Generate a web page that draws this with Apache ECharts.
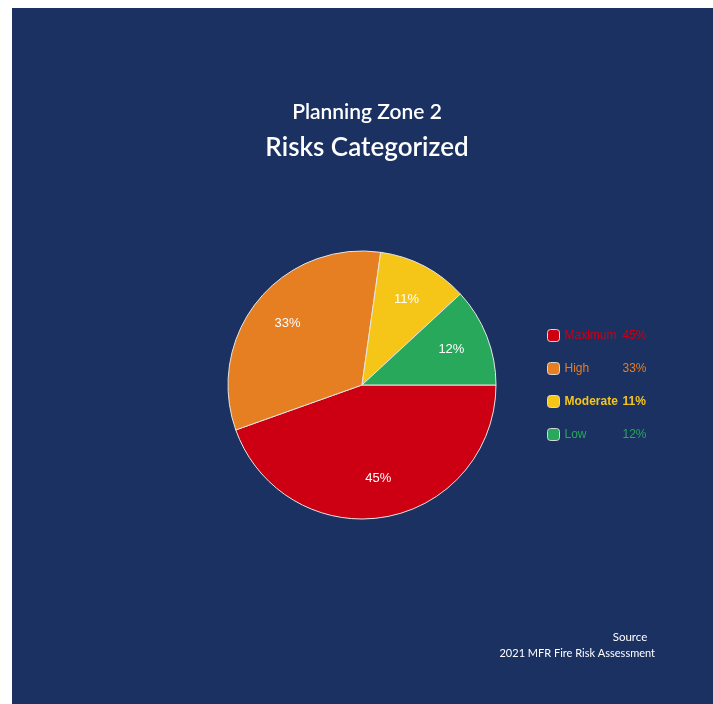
<!DOCTYPE html>
<html>
<head>
<meta charset="utf-8">
<script src="https://cdn.jsdelivr.net/npm/echarts@6/dist/echarts.min.js"></script>
<style>
  html, body { margin: 0; padding: 0; background: #ffffff; }
  #chart { position: absolute; left: 12px; top: 8px; width: 701px; height: 696px; }
</style>
</head>
<body>
<div id="chart"></div>
<script>
// Risk categories for Planning Zone 2 (percent of assessed area)
const categories = ['Maximum', 'High', 'Moderate', 'Low'];
const shares = [45, 33, 11, 12];
const sliceColors = ['#cc0012', '#e67e22', '#f5c518', '#27a85a'];

const titleFont = '"Lato", "Open Sans", sans-serif';
const bodyFont = '"Liberation Sans", Arial, sans-serif';

const pieData = categories.map((name, i) => ({
  name: name,
  value: shares[i],
  itemStyle: { color: sliceColors[i] }
}));

const chart = echarts.init(document.getElementById('chart'));
chart.setOption({
  backgroundColor: '#1a3162',
  animation: false,
  title: [
    {
      text: 'Planning Zone 2',
      left: 350, top: 89, textAlign: 'center',
      textStyle: { color: '#ffffff', fontFamily: titleFont, fontSize: 21, fontWeight: 600 }
    },
    {
      text: 'Risks Categorized',
      left: 350, top: 122, textAlign: 'center',
      textStyle: { color: '#ffffff', fontFamily: titleFont, fontSize: 26, fontWeight: 600 }
    },
    {
      text: 'Source',
      left: 613, top: 618, textAlign: 'center',
      textStyle: { color: '#ffffff', fontFamily: titleFont, fontSize: 11.5, fontWeight: 400 }
    },
    {
      text: '2021 MFR Fire Risk Assessment',
      right: 53, top: 635,
      textStyle: { color: '#ffffff', fontFamily: titleFont, fontSize: 11, fontWeight: 400 }
    }
  ],
  legend: {
    orient: 'vertical',
    left: 530, top: 316,
    itemWidth: 12, itemHeight: 12, itemGap: 20,
    icon: 'roundRect',
    itemStyle: { borderColor: '#d8d8d8', borderWidth: 1 },
    data: categories.map((name, i) => ({
      name: name,
      textStyle: {
        color: sliceColors[i],
        fontWeight: name === 'Moderate' ? 'bold' : 'normal',
        rich: {
          n: { width: 58, color: sliceColors[i], fontFamily: bodyFont, fontSize: 12,
               fontWeight: name === 'Moderate' ? 'bold' : 'normal' },
          v: { color: sliceColors[i], fontFamily: bodyFont, fontSize: 12,
               fontWeight: name === 'Moderate' ? 'bold' : 'normal' }
        }
      }
    })),
    formatter: function (name) {
      const i = categories.indexOf(name);
      return '{n|' + name + '}{v|' + shares[i] + '%}';
    },
    textStyle: { fontFamily: bodyFont, fontSize: 12 }
  },
  series: [
    {
      type: 'pie',
      center: [350, 377],
      radius: [0, 134],
      startAngle: 0,
      clockwise: true,
      silent: true,
      data: pieData,
      itemStyle: { borderColor: '#e6e6e6', borderWidth: 1 },
      label: { show: false },
      labelLine: { show: false }
    },
    {
      // transparent ring that carries the percentage labels at ~70% radius
      type: 'pie',
      center: [350, 376],
      radius: [52, 134],
      startAngle: 0,
      clockwise: true,
      silent: true,
      legendHoverLink: false,
      data: pieData.map(d => ({ name: d.name, value: d.value, itemStyle: { color: 'transparent', borderWidth: 0 } })),
      label: {
        show: true,
        position: 'inside',
        formatter: p => p.value + '%',
        color: '#ffffff',
        fontFamily: bodyFont,
        fontSize: 13
      },
      labelLine: { show: false }
    }
  ]
});
</script>
</body>
</html>
